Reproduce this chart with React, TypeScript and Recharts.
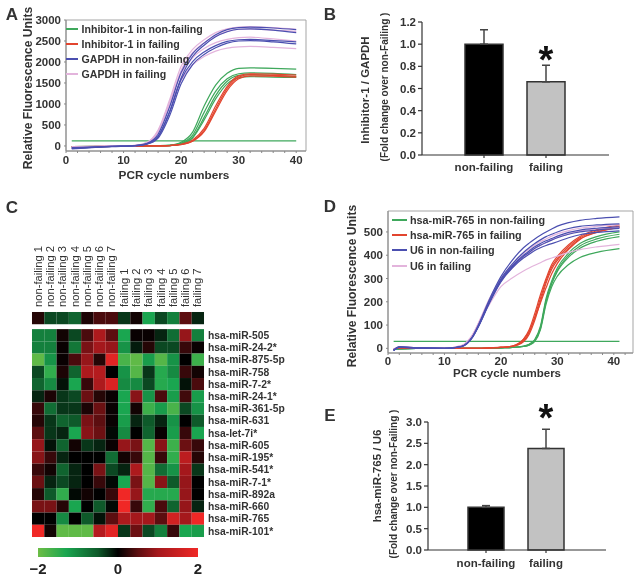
import React from 'react';
import {
  Bar,
  BarChart,
  Cell,
  ErrorBar,
  Legend,
  Line,
  LineChart,
  ReferenceArea,
  Scatter,
  ScatterChart,
  XAxis,
  YAxis,
} from 'recharts';

const FONT = '"Liberation Sans", Arial, sans-serif';
const INK = '#333';

const GREEN = '#3fa85c';
const RED = '#e2452f';
const BLUE = '#4b4fb0';
const PINK = '#e3b4dc';

// Panel A: amplification curves, Inhibitor-1 and GAPDH
const cyclesA = [1, 8, 12, 14, 16, 18, 20, 22, 24, 26, 28, 30, 32, 36, 40];
const xTicksA = [0, 2, 4, 6, 8, 10, 12, 14, 16, 18, 20, 22, 24, 26, 28, 30, 32, 34, 36, 38, 40];
const yTicksA = [0, 500, 1000, 1500, 2000, 2500, 3000];
const inhibitorNonFailing = [
  [120, 120, 120, 120, 120, 120, 120, 120, 120, 120, 120, 120, 120, 120, 120],
  [-20, -10, -5, 0, 5, 20, 90, 330, 950, 1450, 1730, 1850, 1860, 1850, 1830],
  [-20, -10, -5, 0, 5, 15, 70, 260, 800, 1300, 1600, 1720, 1740, 1730, 1700],
  [-15, -10, -5, 0, 5, 10, 55, 210, 680, 1200, 1540, 1680, 1700, 1680, 1650],
  [-15, -10, -5, 0, 5, 10, 50, 190, 620, 1120, 1480, 1620, 1650, 1640, 1630],
];
const inhibitorFailing = [
  [-20, -10, -5, 0, 0, 10, 40, 140, 420, 950, 1420, 1670, 1720, 1710, 1690],
  [-20, -10, -5, 0, 0, 10, 35, 120, 370, 880, 1370, 1640, 1700, 1680, 1660],
  [-15, -10, -5, 0, 0, 10, 30, 110, 340, 830, 1320, 1600, 1670, 1660, 1640],
];
const gapdhFailing = [
  [-30, -5, 15, 80, 380, 1100, 1900, 2300, 2530, 2700, 2790, 2830, 2840, 2820, 2780],
  [-20, 0, 15, 70, 340, 1030, 1800, 2220, 2460, 2620, 2730, 2780, 2790, 2760, 2730],
  [-40, -5, 10, 75, 360, 1040, 1720, 2100, 2320, 2460, 2540, 2580, 2590, 2550, 2500],
  [-20, 0, 10, 70, 330, 950, 1560, 1930, 2130, 2260, 2330, 2360, 2370, 2350, 2320],
];
const gapdhNonFailing = [
  [-60, -10, 10, 60, 280, 930, 1750, 2200, 2450, 2650, 2770, 2820, 2830, 2810, 2770],
  [-50, -10, 10, 50, 230, 820, 1620, 2130, 2400, 2600, 2720, 2780, 2790, 2760, 2700],
  [-70, -15, 5, 45, 220, 800, 1580, 2010, 2240, 2390, 2490, 2530, 2540, 2510, 2480],
  [-40, -10, 5, 40, 190, 720, 1480, 1940, 2180, 2340, 2450, 2500, 2510, 2480, 2430],
];
const legendA = ['Inhibitor-1 in non-failing', 'Inhibitor-1 in failing', 'GAPDH in non-failing', 'GAPDH in failing'];

// Panel D: amplification curves, hsa-miR-765 and U6
const cyclesD = [1, 2, 5, 10, 13, 15, 16, 18, 20, 22, 24, 25, 26, 27, 28, 29, 30, 32, 34, 37, 41];
const xTicksD = [0, 2, 4, 6, 8, 10, 12, 14, 16, 18, 20, 22, 24, 26, 28, 30, 32, 34, 36, 38, 40, 42];
const yTicksD = [0, 100, 200, 300, 400, 500];
const mirNonFailing = [
  [30, 30, 30, 30, 30, 30, 30, 30, 30, 30, 30, 30, 30, 30, 30, 30, 30, 30, 30, 30, 30],
  [-6, -2, 0, 0, 0, 0, 0, 0, 2, 4, 10, 18, 38, 95, 215, 290, 345, 410, 450, 480, 500],
  [-6, -2, 0, 0, 0, 0, 0, 0, 2, 4, 8, 15, 32, 85, 200, 280, 335, 400, 440, 470, 490],
  [-6, -2, 0, 0, 0, 0, 0, 0, 2, 4, 9, 16, 35, 88, 205, 278, 330, 392, 430, 460, 480],
  [-6, -2, 0, 0, 0, 0, 0, 0, 2, 4, 8, 14, 30, 80, 190, 265, 310, 360, 390, 412, 428],
];
const mirFailing = [
  [-4, 2, 0, 0, 0, 0, 0, 2, 4, 10, 40, 80, 150, 230, 300, 360, 395, 445, 480, 510, 530],
  [-4, 2, 0, 0, 0, 0, 0, 2, 4, 8, 32, 68, 135, 215, 290, 350, 385, 438, 475, 505, 525],
  [-4, 2, 0, 0, 0, 0, 0, 2, 4, 8, 28, 60, 120, 200, 280, 340, 378, 430, 470, 500, 520],
  [-4, 2, 0, 0, 0, 0, 0, 2, 5, 10, 38, 72, 130, 195, 260, 320, 365, 425, 468, 498, 520],
];
const u6Failing = [
  [-3, 6, 3, 1, 12, 58, 108, 215, 300, 360, 408, 426, 444, 458, 470, 482, 492, 506, 516, 524, 530],
  [-3, 5, 3, 1, 10, 55, 105, 205, 288, 345, 392, 410, 428, 442, 454, 466, 476, 492, 504, 514, 520],
  [-3, 5, 3, 1, 12, 60, 105, 190, 265, 302, 332, 345, 357, 368, 380, 388, 396, 412, 424, 436, 447],
];
const u6NonFailing = [
  [-10, 6, 2, 0, 8, 50, 95, 200, 290, 350, 395, 412, 430, 443, 455, 465, 475, 490, 500, 508, 515],
  [-8, 5, 2, 0, 8, 52, 100, 212, 308, 378, 432, 452, 470, 486, 500, 513, 525, 540, 550, 558, 565],
  [-6, 5, 2, 0, 9, 50, 96, 203, 298, 362, 412, 432, 450, 466, 480, 490, 500, 515, 524, 530, 535],
  [-10, 4, 1, 0, 7, 48, 92, 196, 285, 345, 388, 404, 420, 432, 442, 450, 458, 475, 488, 498, 505],
  [-8, 6, 2, 0, 8, 50, 94, 200, 292, 354, 400, 418, 436, 450, 462, 472, 482, 498, 508, 516, 522],
];
const legendD = ['hsa-miR-765 in non-failing', 'hsa-miR-765 in failing', 'U6 in non-failing', 'U6 in failing'];

// Panels B and E: bars
const groups = ['non-failing', 'failing'];
const ratioB = [1.0, 0.66];
const errorB = [0.13, 0.15];
const yTicksB = [0, 0.2, 0.4, 0.6, 0.8, 1.0, 1.2];
const ratioE = [1.0, 2.38];
const errorE = [0.04, 0.45];
const yTicksE = [0, 0.5, 1.0, 1.5, 2.0, 2.5, 3.0];
const barFills = ['#000', '#c2c2c2'];

// Panel C: heat map
const samples = [
  'non-failing 1', 'non-failing 2', 'non-failing 3', 'non-failing 4', 'non-failing 5', 'non-failing 6', 'non-failing 7',
  'failing 1', 'failing 2', 'failing 3', 'failing 4', 'failing 5', 'failing 6', 'failing 7',
];
const mirnas = [
  'hsa-miR-505', 'hsa-miR-24-2*', 'hsa-miR-875-5p', 'hsa-miR-758', 'hsa-miR-7-2*', 'hsa-miR-24-1*',
  'hsa-miR-361-5p', 'hsa-miR-631', 'hsa-let-7i*', 'hsa-miR-605', 'hsa-miR-195*', 'hsa-miR-541*',
  'hsa-miR-7-1*', 'hsa-miR-892a', 'hsa-miR-660', 'hsa-miR-765', 'hsa-miR-101*',
];
const summaryRow = [0.2, -0.4, -0.4, -0.6, 0.15, 0.4, 0.4, -0.3, 0.1, -1.3, -0.4, -0.9, 0.5, -0.2];
const heatValues = [
  [-0.9, -0.9, 0.1, -0.4, 0.4, 1.1, 0.5, -1.3, 0.05, 0.05, -0.2, -0.7, 0.9, -0.9],
  [-0.9, -0.9, 0.05, -0.8, 0.7, 1.0, 0.9, -1.1, -0.15, 0.2, -0.4, -0.4, 0.3, 0.05],
  [-1.9, -1.1, 0.05, 0.4, 0.9, 0.2, 1.8, -1.7, -1.9, -1.2, -1.8, -1.1, 0, -1.6],
  [-0.4, -1.5, 0.15, -0.6, 1.1, 1.2, 0, -1.1, -1.8, -0.3, -1.4, -1.0, 0.3, 0.1],
  [-0.6, -1.0, -0.1, -1.3, 0.3, 1.1, 1.7, -1.0, -1.0, -0.4, -1.4, -1.3, -0.1, 0.4],
  [-0.2, 0.15, -0.3, -0.4, 0.6, 0.2, 0.05, -1.3, 0.8, -1.1, 0.4, -1.2, 0.35, -1.2],
  [0.3, -0.7, -0.3, -0.3, 0.15, 0.6, 0.05, -1.3, 0.1, -1.6, -1.2, -1.7, -0.4, -1.1],
  [0.2, -0.3, -0.6, -0.5, 0.7, 0.5, 0.05, -1.2, -0.2, -0.5, -0.2, -1.1, 0, -0.5],
  [0.5, -0.3, -0.2, -1.3, 0.8, 0.6, -0.05, -1.0, 0, -0.6, 0.05, -1.2, 0.3, -1.3],
  [0.9, -0.1, -0.6, 0.1, -0.3, -0.2, 0.05, 0.9, 0.7, -1.8, 0.8, -1.6, 0.6, 0.3],
  [0.8, 0.3, -0.2, 0, 0, 0, -0.7, 0.1, 0.3, -1.8, 0.3, -1.5, 1.3, 0.2],
  [0.3, 0.1, -0.6, -0.2, 0, 0.7, -0.4, -0.2, 1.1, -1.8, -0.7, -1.1, 1.0, -0.3],
  [0.6, -0.2, -0.4, -0.2, 0, 0.3, -0.05, -1.3, 0.7, -1.8, 0.8, -0.5, 0.9, 0],
  [0.2, -0.5, -1.5, -0.05, 0.1, 0, 0.3, 2, 0.9, -1.4, -1.4, -1.4, 0.9, 0],
  [0.7, 0.7, 0.2, -1.3, 0, -0.5, -0.05, 2, 0.3, -1.5, 0.4, -0.6, 0.9, -0.2],
  [0, 0, -1.0, 0, -0.5, -0.1, 0.5, 1.1, 1, 1, 0.5, 1.6, 1, 2],
  [2, 0.1, -1.9, -1.9, -1.9, 1.2, 1.8, -0.3, 0.6, -0.4, -0.9, 0.3, -1.3, -1.2],
];
const SUMMARY_ROW_POS = -1.4;
const colorStops: [number, number[]][] = [
  [-2, [108, 189, 69]],
  [-1.3, [26, 166, 80]],
  [-0.5, [14, 90, 42]],
  [0, [0, 0, 0]],
  [0.5, [92, 14, 16]],
  [1, [165, 24, 28]],
  [2, [240, 40, 38]],
];
const colorbarTicks = [-2, 0, 2];
const colorbarSpan = [{ name: 'scale', range: [-2, 2] }];

const heatColor = (v: number) => {
  for (let i = 1; i < colorStops.length; i++) {
    const [v0, c0] = colorStops[i - 1];
    const [v1, c1] = colorStops[i];
    if (v <= v1) {
      const t = (v - v0) / (v1 - v0);
      return `rgb(${c0.map((c, k) => Math.round(c + (c1[k] - c) * t)).join(',')})`;
    }
  }
  return 'rgb(240,40,38)';
};

const heatPoints = heatValues.flatMap((row, r) => row.map((value, c) => ({ col: c, row: r, value })));
const summaryPoints = summaryRow.map((value, c) => ({ col: c, row: SUMMARY_ROW_POS, value }));

type Group = { name: string; color: string; curves: number[][] };

const toRows = (cycles: number[], series: Group[]) =>
  cycles.map((cycle, i) => {
    const row: Record<string, number> = { cycle };
    series.forEach(s => s.curves.forEach((c, k) => { row[`${s.name}${k}`] = c[i]; }));
    return row;
  });

const seriesA: Group[] = [
  { name: 'ing', color: GREEN, curves: inhibitorNonFailing },
  { name: 'inr', color: RED, curves: inhibitorFailing },
  { name: 'gp', color: PINK, curves: gapdhFailing },
  { name: 'gb', color: BLUE, curves: gapdhNonFailing },
];
const seriesD: Group[] = [
  { name: 'mg', color: GREEN, curves: mirNonFailing },
  { name: 'mr', color: RED, curves: mirFailing },
  { name: 'up', color: PINK, curves: u6Failing },
  { name: 'ub', color: BLUE, curves: u6NonFailing },
];
const legendColors = [GREEN, RED, BLUE, PINK];

const tickStyle = { fontSize: 11.5, fontWeight: 700, fill: INK, fontFamily: FONT };

// text that sits on the figure rather than on a scale: panel letters, axis titles, stars
const Caption: React.FC<{ x: number; y: number; size: number; bold?: boolean; rotate?: boolean; color?: string; children: React.ReactNode }> = ({
  x, y, size, bold = true, rotate = false, color = INK, children,
}) => (
  <div
    style={{
      position: 'absolute',
      left: x,
      top: y,
      transform: `translate(-50%, -50%)${rotate ? ' rotate(-90deg)' : ''}`,
      fontFamily: FONT,
      fontSize: size,
      fontWeight: bold ? 700 : 400,
      color,
      whiteSpace: 'nowrap',
      lineHeight: 1,
    }}
  >
    {children}
  </div>
);

const CurveLegend = (labels: string[], lineWidth: number, textGap: number, rowHeight: number, size: number) => () => (
  <div style={{ fontFamily: FONT }}>
    {labels.map((label, i) => (
      <div key={label} style={{ display: 'flex', alignItems: 'center', height: rowHeight }}>
        <span style={{ width: lineWidth, height: 2, background: legendColors[i], marginRight: textGap }} />
        <span style={{ fontSize: size, fontWeight: 700, color: INK, whiteSpace: 'nowrap' }}>{label}</span>
      </div>
    ))}
  </div>
);

const CurvePanel: React.FC<{
  left: number; top: number; width: number; height: number;
  margin: { top: number; right: number; left: number; bottom: number };
  yAxisWidth: number; xAxisHeight: number; xTickMargin: number;
  cycles: number[]; series: Group[];
  xDomain: number[]; yDomain: number[]; xTicks: number[]; yTicks: number[];
  legend: () => React.ReactElement; legendPos: { left: number; top: number };
}> = ({ left, top, width, height, margin, yAxisWidth, xAxisHeight, xTickMargin, cycles, series, xDomain, yDomain, xTicks, yTicks, legend, legendPos }) => (
  <div style={{ position: 'absolute', left, top }}>
    <LineChart width={width} height={height} data={toRows(cycles, series)} margin={margin}>
      <XAxis
        dataKey="cycle"
        type="number"
        domain={xDomain}
        ticks={xTicks}
        interval={0}
        height={xAxisHeight}
        allowDataOverflow
        tick={tickStyle}
        tickSize={2}
        tickMargin={xTickMargin}
        stroke="#888"
        tickFormatter={v => (v % 10 === 0 ? String(v) : '')}
      />
      <YAxis
        type="number"
        domain={yDomain}
        ticks={yTicks}
        interval={0}
        width={yAxisWidth}
        allowDataOverflow
        tick={tickStyle}
        tickSize={2}
        tickMargin={3}
        stroke="#888"
      />
      <ReferenceArea x1={xDomain[0]} x2={xDomain[1]} y1={yDomain[0]} y2={yDomain[1]} fill="none" stroke="#a5a5a5" />
      {series.flatMap(s =>
        s.curves.map((_, k) => (
          <Line
            key={`${s.name}${k}`}
            dataKey={`${s.name}${k}`}
            type="monotone"
            stroke={s.color}
            strokeWidth={1.2}
            dot={false}
            isAnimationActive={false}
            legendType="none"
          />
        )),
      )}
      <Legend layout="vertical" align="center" verticalAlign="middle" wrapperStyle={{ ...legendPos, width: 200, height: 64 }} content={legend} />
    </LineChart>
  </div>
);

const BarPanel: React.FC<{
  left: number; top: number; width: number; height: number;
  margin: { top: number; right: number; left: number; bottom: number };
  yAxisWidth: number; xAxisHeight: number; xTickMargin: number; padding: { left: number; right: number };
  values: number[]; errors: number[]; yDomain: number[]; yTicks: number[]; decimals: number; barSize: number;
}> = ({ left, top, width, height, margin, yAxisWidth, xAxisHeight, xTickMargin, padding, values, errors, yDomain, yTicks, decimals, barSize }) => {
  const rows = groups.map((name, i) => ({ name, value: values[i], err: [0, errors[i]] }));
  return (
    <div style={{ position: 'absolute', left, top }}>
      <BarChart width={width} height={height} data={rows} margin={margin}>
        <XAxis dataKey="name" height={xAxisHeight} padding={padding} tick={{ ...tickStyle, fontSize: 11.5 }} tickSize={3} tickMargin={xTickMargin} stroke={INK} strokeWidth={1.2} />
        <YAxis
          type="number"
          domain={yDomain}
          ticks={yTicks}
          interval={0}
          width={yAxisWidth}
          tick={tickStyle}
          tickSize={4}
          tickMargin={2}
          stroke={INK}
          strokeWidth={1.2}
          tickFormatter={v => v.toFixed(decimals)}
        />
        <Bar dataKey="value" barSize={barSize} stroke={INK} strokeWidth={1.5} isAnimationActive={false}>
          {rows.map((r, i) => <Cell key={r.name} fill={barFills[i]} />)}
          <ErrorBar dataKey="err" direction="y" width={4} stroke="#444" strokeWidth={1.5} />
        </Bar>
      </BarChart>
    </div>
  );
};

const HeatCell = (props: any) => (
  <rect x={props.cx - 6.15} y={props.cy - 6.12} width={12.3} height={12.24} fill={heatColor(props.payload.value)} />
);

const SampleTick = (props: any) => (
  <text
    transform={`translate(${props.x + 3.5},67) rotate(-90)`}
    fontFamily={FONT}
    fontSize={11.2}
    fill={INK}
  >
    {samples[props.payload.value]}
  </text>
);

const HeatMap = () => (
  <div style={{ position: 'absolute', left: 0, top: 240 }}>
    <ScatterChart width={330} height={300} margin={{ top: 0, right: 0, bottom: 3, left: 32 }}>
      <XAxis
        xAxisId="cols"
        dataKey="col"
        type="number"
        orientation="top"
        domain={[-0.5, 13.5]}
        ticks={samples.map((_, i) => i)}
        interval={0}
        height={72}
        axisLine={false}
        tickLine={false}
        tick={<SampleTick />}
      />
      <YAxis
        yAxisId="rows"
        dataKey="row"
        type="number"
        orientation="right"
        reversed
        domain={[-1.9, 16.5]}
        ticks={mirnas.map((_, i) => i)}
        interval={0}
        width={126}
        axisLine={false}
        tickLine={false}
        tickSize={0}
        tickMargin={4}
        tick={{ fontSize: 10.3, fontWeight: 700, fill: INK, fontFamily: FONT }}
        tickFormatter={v => mirnas[v]}
      />
      <Scatter xAxisId="cols" yAxisId="rows" data={summaryPoints} shape={HeatCell} isAnimationActive={false} />
      <Scatter xAxisId="cols" yAxisId="rows" data={heatPoints} shape={HeatCell} isAnimationActive={false} />
    </ScatterChart>
  </div>
);

const ColorBar = () => (
  <div style={{ position: 'absolute', left: 0, top: 540 }}>
    <svg width={0} height={0} style={{ position: 'absolute' }}>
      <defs>
        <linearGradient id="heatScale" x1="0" x2="1" y1="0" y2="0">
          {colorStops.map(([v]) => (
            <stop key={v} offset={`${((v + 2) / 4) * 100}%`} stopColor={heatColor(v)} />
          ))}
        </linearGradient>
      </defs>
    </svg>
    <BarChart width={240} height={39} layout="vertical" margin={{ top: 8, right: 42, bottom: 0, left: 38 }} data={colorbarSpan} barCategoryGap={0}>
      <XAxis
        type="number"
        domain={[-2, 2]}
        ticks={colorbarTicks}
        interval={0}
        height={22}
        axisLine={false}
        tickLine={false}
        tickMargin={0}
        tick={{ fontSize: 15, fontWeight: 700, fill: '#222', fontFamily: FONT }}
        tickFormatter={v => (v < 0 ? `\u2212${-v}` : String(v))}
      />
      <YAxis hide type="category" dataKey="name" />
      <Bar dataKey="range" fill="url(#heatScale)" isAnimationActive={false} />
    </BarChart>
  </div>
);

export default function App() {
  return (
    <div style={{ position: 'absolute', left: 0, top: 0, width: 639, height: 579, background: '#fff', overflow: 'hidden', filter: 'blur(0.45px)' }}>
      <Caption x={12} y={14} size={17}>A</Caption>
      <Caption x={330} y={14} size={17}>B</Caption>
      <Caption x={12} y={207} size={17}>C</Caption>
      <Caption x={330} y={206} size={17}>D</Caption>
      <Caption x={330} y={415} size={17}>E</Caption>

      <CurvePanel
        left={0} top={0} width={320} height={190}
        margin={{ top: 20, right: 14, bottom: 0, left: 0 }}
        yAxisWidth={66} xAxisHeight={39} xTickMargin={3}
        cycles={cyclesA} series={seriesA}
        xDomain={[0, 41.7]} yDomain={[-120, 3000]} xTicks={xTicksA} yTicks={yTicksA}
        legend={CurveLegend(legendA, 12, 3.5, 15, 10.6)}
        legendPos={{ left: 66, top: 21 }}
      />
      <Caption x={28} y={88} size={12.2} rotate>Relative Fluorescence Units</Caption>
      <Caption x={174} y={176} size={11.8}>PCR cycle numbers</Caption>

      <BarPanel
        left={340} top={0} width={290} height={190}
        margin={{ top: 22, right: 21, bottom: 0, left: 0 }}
        yAxisWidth={82} xAxisHeight={35} xTickMargin={5} padding={{ left: 31, right: 32 }}
        values={ratioB} errors={errorB} yDomain={[0, 1.2]} yTicks={yTicksB} decimals={1} barSize={38}
      />
      <Caption x={366} y={90} size={11.5} rotate>Inhibitor-1 / GAPDH</Caption>
      <Caption x={385} y={87} size={10} rotate>(Fold change over non-Failing )</Caption>
      <Caption x={546} y={60} size={38} color="#111">*</Caption>

      <HeatMap />
      <ColorBar />

      <CurvePanel
        left={330} top={190} width={309} height={190}
        margin={{ top: 21, right: 6, bottom: 0, left: 0 }}
        yAxisWidth={58} xAxisHeight={27} xTickMargin={2}
        cycles={cyclesD} series={seriesD}
        xDomain={[0, 43.4]} yDomain={[-20, 590]} xTicks={xTicksD} yTicks={yTicksD}
        legend={CurveLegend(legendD, 15, 3, 15.3, 10.8)}
        legendPos={{ left: 62, top: 22 }}
      />
      <Caption x={352} y={286} size={12.2} rotate>Relative Fluorescence Units</Caption>
      <Caption x={507} y={374} size={11.5}>PCR cycle numbers</Caption>

      <BarPanel
        left={340} top={400} width={290} height={179}
        margin={{ top: 22, right: 24, bottom: 0, left: 0 }}
        yAxisWidth={88} xAxisHeight={29} xTickMargin={6} padding={{ left: 28, right: 30 }}
        values={ratioE} errors={errorE} yDomain={[0, 3]} yTicks={yTicksE} decimals={1} barSize={36}
      />
      <Caption x={378} y={476} size={11.5} rotate>hsa-miR-765 / U6</Caption>
      <Caption x={394} y={484} size={10} rotate>(Fold change over non-Failing )</Caption>
      <Caption x={546} y={418} size={38} color="#111">*</Caption>
    </div>
  );
}
